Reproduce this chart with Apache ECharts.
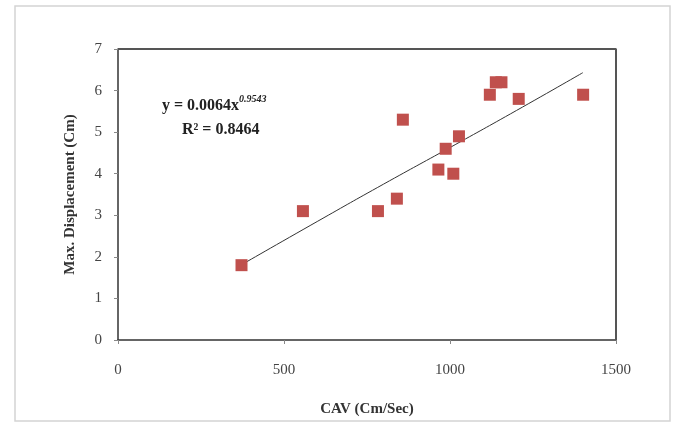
<!DOCTYPE html>
<html>
<head>
<meta charset="utf-8">
<script src="https://cdn.jsdelivr.net/npm/echarts@6/dist/echarts.min.js"></script>
<style>
  html, body { margin: 0; padding: 0; background: #fff; }
  #chart { width: 678px; height: 423px; }
</style>
</head>
<body>
<div id="chart"></div>
<script>
// measured points (CAV, max displacement)
const cav = [372, 557, 783, 840, 858, 965, 987, 1010, 1027, 1120, 1138, 1155, 1207, 1401]
const disp = [1.8, 3.1, 3.1, 3.4, 5.3, 4.1, 4.6, 4.0, 4.9, 5.9, 6.2, 6.2, 5.8, 5.9]

// points read along the power trendline
const trendX = [372, 600, 800, 1000, 1200, 1400]
const trendY = [1.81, 2.85, 3.75, 4.63, 5.52, 6.43]

const xTicks = [0, 500, 1000, 1500]
const yTicks = [0, 1, 2, 3, 4, 5, 6, 7]

const serif = '"Liberation Serif", "Times New Roman", serif'

const chart = echarts.init(document.getElementById('chart'))

chart.setOption({
    backgroundColor: '#fff',
    animation: false,
    grid: { left: 118, right: 62, top: 49, bottom: 83 },
    graphic: [
        {
            type: 'rect',
            shape: { x: 15, y: 6, width: 655, height: 415 },
            style: { fill: 'none', stroke: '#d4d4d4', lineWidth: 1.5 },
            silent: true
        }
    ],
    title: {
        text: '{b|y = 0.0064x}{s|0.9543}\n    {b|R² = 0.8464}',
        left: 157,
        top: 89,
        textStyle: {
            rich: {
                b: { fontFamily: serif, fontWeight: 'bold', fontSize: 16, color: '#222', lineHeight: 24 },
                s: { fontFamily: serif, fontWeight: 'bold', fontStyle: 'italic', fontSize: 10, color: '#222', verticalAlign: 'top', padding: [0, 0, 8, 0] }
            }
        }
    },
    xAxis: {
        type: 'value',
        min: 0,
        max: 1500,
        interval: 500,
        name: 'CAV (Cm/Sec)',
        nameLocation: 'middle',
        nameGap: 62,
        nameTextStyle: { fontFamily: serif, fontWeight: 'bold', fontSize: 15, color: '#333' },
        axisLine: { show: true, lineStyle: { color: '#333', width: 1.5 } },
        axisTick: { show: true, inside: false, length: 4, lineStyle: { color: '#888' } },
        axisLabel: {
            fontFamily: serif, fontSize: 15, color: '#444', margin: 23,
            formatter: v => xTicks.includes(v) ? String(v) : ''
        },
        splitLine: { show: false }
    },
    yAxis: {
        type: 'value',
        min: 0,
        max: 7,
        interval: 1,
        name: 'Max. Displacement (Cm)',
        nameLocation: 'middle',
        nameGap: 40,
        nameRotate: 90,
        nameTextStyle: { fontFamily: serif, fontWeight: 'bold', fontSize: 15, color: '#333' },
        axisLine: { show: true, lineStyle: { color: '#333', width: 1.5 } },
        axisTick: { show: true, inside: false, length: 4, lineStyle: { color: '#888' } },
        axisLabel: {
            fontFamily: serif, fontSize: 15, color: '#444', margin: 16,
            formatter: v => yTicks.includes(v) ? String(v) : ''
        },
        splitLine: { show: false }
    },
    series: [
        {
            type: 'line',
            data: trendX.map((x, i) => [x, trendY[i]]),
            showSymbol: false,
            smooth: true,
            lineStyle: { color: '#333', width: 1 },
            z: 2
        },
        {
            type: 'scatter',
            data: cav.map((x, i) => [x, disp[i]]),
            symbol: 'rect',
            symbolSize: 12,
            itemStyle: { color: '#c0504d', opacity: 1 },
            z: 3
        },
        // right and top edges of the plot box
        {
            type: 'line',
            data: [[1500, 0], [1500, 7], [0, 7]],
            showSymbol: false,
            lineStyle: { color: '#555', width: 2 },
            silent: true,
            z: 1
        }
    ]
})

window.addEventListener('resize', () => chart.resize())
</script>
</body>
</html>
